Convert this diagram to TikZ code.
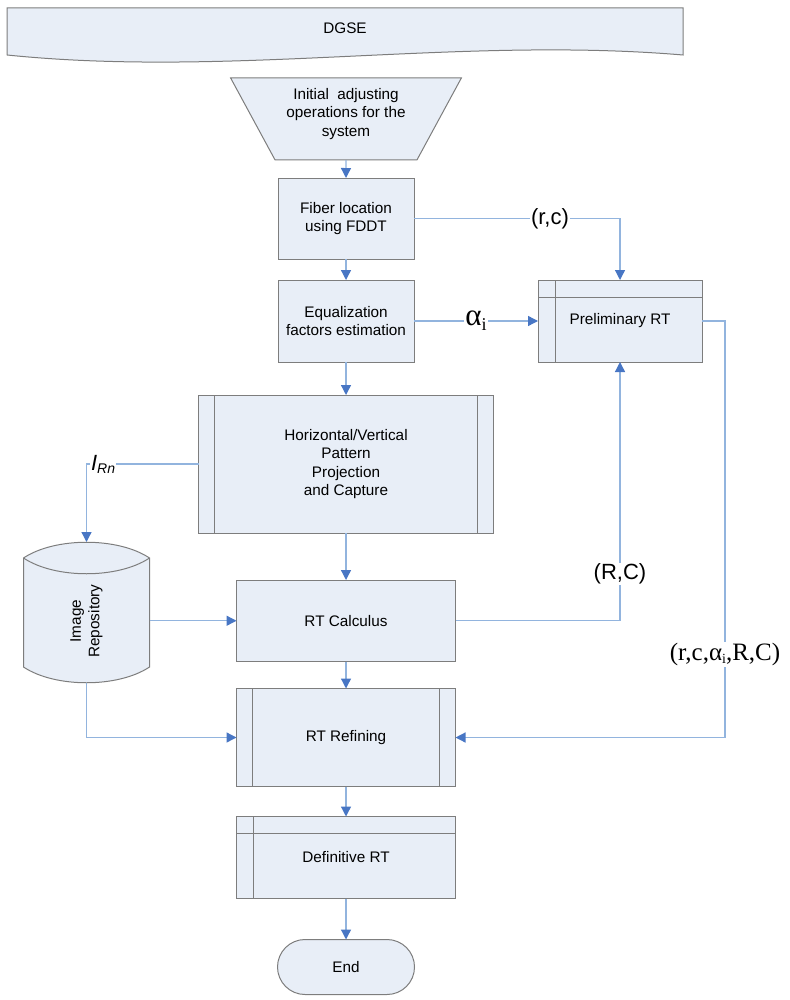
\documentclass[tikz,border=0pt]{standalone}
\usepackage{fontspec}
\setmainfont{Liberation Sans}
\newfontfamily\timesfont{Liberation Serif}
\usepackage{tikz}
\usetikzlibrary{arrows.meta,positioning,shapes.geometric}

\definecolor{boxfill}{RGB}{232,238,247}
\definecolor{boxgray}{RGB}{125,125,125}
\definecolor{lineblue}{RGB}{146,180,222}
\definecolor{tipblue}{RGB}{72,118,196}

\begin{document}
\begin{tikzpicture}[x=1pt,y=-1pt,>={Triangle[length=10pt,width=10pt,color=tipblue]}]
	\tikzstyle{every node}=[font=\fontsize{15.3}{18.5}\selectfont]
	\tikzstyle{box}=[draw=boxgray,fill=boxfill,line width=1pt]
	\tikzstyle{proc}=[box,rectangle,align=center,outer sep=0pt,inner sep=2pt]
	\tikzstyle{subproc}=[proc,path picture={
		\draw[boxgray,line width=1pt]
			([xshift=16pt]path picture bounding box.north west) -- ([xshift=16pt]path picture bounding box.south west)
			([xshift=-16pt]path picture bounding box.north east) -- ([xshift=-16pt]path picture bounding box.south east);}]
	\tikzstyle{store}=[proc,path picture={
		\draw[boxgray,line width=1pt]
			([xshift=17pt]path picture bounding box.north west) -- ([xshift=17pt]path picture bounding box.south west)
			([yshift=-17pt]path picture bounding box.north west) -- ([yshift=-17pt]path picture bounding box.north east);}]
	\tikzstyle{flow}=[->,draw=lineblue,line width=1.3pt]
	\tikzstyle{tag}=[fill=white,inner sep=1pt,font=\fontsize{22}{22}\selectfont]
	\tikzstyle{serif tag}=[tag,font=\timesfont\fontsize{25}{25}\selectfont]

	\useasboundingbox (0,0) rectangle (789,1000);

	% banner
	\path[box] (7,8) -- (683,8) -- (683,55) .. controls (458,36) and (232,78) .. (7,55) -- cycle;
	\node (dgse) at (345,28) {DGSE};

	% main column
	\node[box,trapezium,shape border rotate=180,trapezium stretches=true,minimum width=231pt,minimum height=82pt,align=center,outer sep=0pt] (init) at (346,119) {Initial\ \ adjusting\\operations for the\\system\\[-5pt]~};
	\node[proc,minimum width=136pt,minimum height=81pt]   (fiber)  [below=18pt of init]   {Fiber location\\using FDDT};
	\node[proc,minimum width=136pt,minimum height=82pt]   (equal)  [below=21pt of fiber]  {Equalization\\factors estimation};
	\node[subproc,minimum width=295pt,minimum height=138pt] (hvpat) [below=33pt of equal] {Horizontal/Vertical\\Pattern\\Projection\\and Capture};
	\node[proc,minimum width=219pt,minimum height=81.5pt] (calc)   [below=47pt of hvpat]  {RT Calculus};
	\node[subproc,minimum width=219pt,minimum height=98pt] (refine) [below=27pt of calc]  {RT Refining};
	\node[store,minimum width=219pt,minimum height=82pt]  (final)  [below=30pt of refine] {Definitive RT};
	\node[proc,rounded corners=27.5pt,minimum width=137pt,minimum height=55pt] (end) [below=41pt of final] {End};
	\node[store,minimum width=164pt,minimum height=82pt]  (prelim) [right=124pt of equal] {Preliminary RT};

	% image repository
	\path[box] (23.5,558) .. controls (55,537) and (118,537) .. (149.5,558) -- (149.5,667)
		.. controls (118,688) and (55,688) .. (23.5,667) -- cycle;
	\draw[boxgray,line width=1pt] (23.5,558) .. controls (55,579) and (118,579) .. (149.5,558);
	\node[rotate=90,align=center] (repo) at (86.5,621) {Image\\Repository};
	\coordinate (repotop)  at (86.5,542);
	\coordinate (repobot)  at (86.5,683);
	\coordinate (repoeast) at (149.5,612);

	\path[flow] (init)   edge (fiber)
	            (fiber)  edge (equal)
	            (equal)  edge (hvpat)
	            (hvpat)  edge (calc)
	            (calc)   edge (refine)
	            (refine) edge (final)
	            (final)  edge (end);

	\draw[flow] (fiber) -| node[tag,pos=0.33] {(r,c)} (prelim);
	\draw[flow] (equal) -- node[serif tag,font=\timesfont\fontsize{31}{31}\selectfont] {α\raisebox{-5pt}{\fontsize{18}{18}\selectfont i}} (prelim);
	\draw[flow] (calc) -| node[tag,pos=0.59] {(R,C)} (prelim);
	\draw[flow] (prelim.east) -- ++(23pt,0) |- node[serif tag,pos=0.4] {(r,c,α\raisebox{-3pt}{\fontsize{14}{14}\selectfont i},R,C)} (refine);
	\draw[flow] (hvpat) -| node[tag,pos=0.426] {\itshape I\raisebox{-3pt}{\fontsize{14}{14}\selectfont Rn}} (repotop);
	\draw[flow] (calc -| repoeast) -- (calc);
	\draw[flow] (repobot) |- (refine);
\end{tikzpicture}
\end{document}
